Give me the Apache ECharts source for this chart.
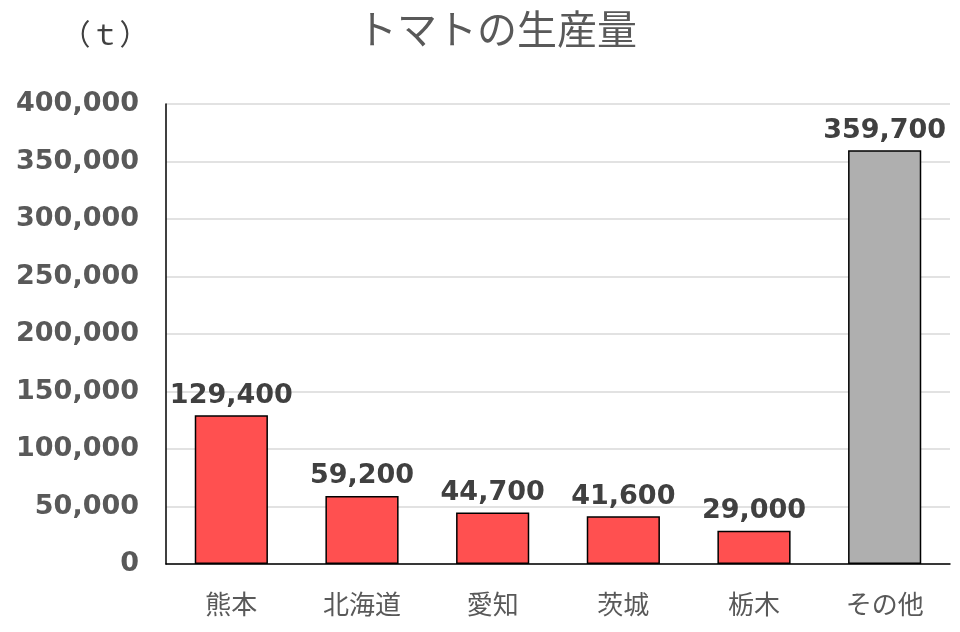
<!DOCTYPE html>
<html>
<head>
<meta charset="utf-8">
<script src="https://cdn.jsdelivr.net/npm/echarts@6/dist/echarts.min.js"></script>
<style>
  html, body { margin: 0; padding: 0; background: #fff; }
  #chart { width: 960px; height: 632px; }
</style>
</head>
<body>
<div id="chart"></div>
<script>
var categories = ['熊本', '北海道', '愛知', '茨城', '栃木', 'その他'];
var values = [129400, 59200, 44700, 41600, 29000, 359700];
var barColors = ['#FF5050', '#FF5050', '#FF5050', '#FF5050', '#FF5050', '#AFAFAF'];

var jpFont = '"Noto Sans CJK JP", sans-serif';
var numFont = '"DejaVu Sans", sans-serif';

var dom = document.getElementById('chart');
var myChart = echarts.init(dom);

myChart.setOption({
    animation: false,
    textStyle: { fontFamily: jpFont },
    title: [{
        text: 'トマトの生産量',
        left: 492,
        textAlign: 'center',
        top: 4,
        textStyle: { fontSize: 40, fontWeight: 'normal', color: '#595959', fontFamily: jpFont }
    }, {
        text: '（ｔ）',
        left: 100,
        textAlign: 'center',
        top: 14,
        textStyle: { fontSize: 29, fontWeight: 'normal', color: '#404040', fontFamily: jpFont }
    }],
    grid: { left: 166, right: 10, top: 104, bottom: 68 },
    xAxis: {
        type: 'category',
        data: categories,
        axisLine: { lineStyle: { color: '#000', width: 1.5 } },
        axisTick: { show: false },
        axisLabel: { fontSize: 26, color: '#595959', margin: 27, fontFamily: jpFont }
    },
    yAxis: {
        type: 'value',
        min: 0,
        max: 400000,
        interval: 50000,
        axisLine: { show: true, lineStyle: { color: '#000', width: 1.5 } },
        axisTick: { show: false },
        splitLine: { lineStyle: { color: '#D9D9D9', width: 1.5 } },
        axisLabel: {
            fontSize: 27,
            fontWeight: 'bold',
            color: '#595959',
            margin: 27,
            fontFamily: numFont,
            formatter: function (v) { return v.toLocaleString('en-US'); }
        }
    },
    series: [{
        type: 'bar',
        barWidth: '56%',
        data: values.map(function (v, i) {
            return { value: v, itemStyle: { color: barColors[i] } };
        }),
        itemStyle: { borderColor: '#000', borderWidth: 1.5 },
        label: {
            show: true,
            position: 'top',
            distance: 6,
            fontSize: 27,
            fontWeight: 'bold',
            color: '#404040',
            fontFamily: numFont,
            formatter: function (p) { return p.value.toLocaleString('en-US'); }
        }
    }]
});
</script>
</body>
</html>
